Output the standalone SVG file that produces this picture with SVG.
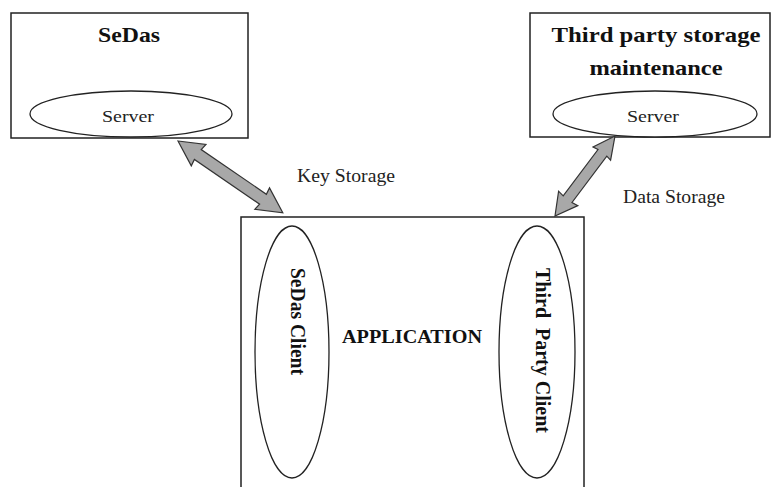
<svg xmlns="http://www.w3.org/2000/svg" width="772" height="487" viewBox="0 0 772 487">
<style>
.box{fill:#fff;stroke:#222;stroke-width:1.5}
.ell{fill:#fff;stroke:#222;stroke-width:1.3}
.b{font-family:"Liberation Serif","Times New Roman",serif;font-weight:bold;fill:#111}
.r{font-family:"Liberation Serif","Times New Roman",serif;fill:#222}
.arr{fill:#a8a8a8;stroke:#333;stroke-width:1.2;stroke-linejoin:miter}
</style>
<rect width="772" height="487" fill="#fff"/>
<g id="sedas">
<rect class="box" x="11" y="13" width="237" height="125"/>
<text class="b" x="129" y="42" font-size="22" text-anchor="middle" textLength="62" lengthAdjust="spacingAndGlyphs">SeDas</text>
<g id="sedas-server">
<ellipse class="ell" cx="131" cy="114" rx="101" ry="23"/>
<text class="r" x="128" y="122" font-size="17" text-anchor="middle" textLength="52" lengthAdjust="spacingAndGlyphs">Server</text>
</g>
</g>
<g id="thirdparty">
<rect class="box" x="530" y="13" width="240" height="124"/>
<text class="b" x="656" y="42" font-size="22" text-anchor="middle" textLength="209" lengthAdjust="spacingAndGlyphs">Third party storage</text>
<text class="b" x="656" y="75" font-size="22" text-anchor="middle" textLength="133" lengthAdjust="spacingAndGlyphs">maintenance</text>
<g id="thirdparty-server">
<ellipse class="ell" cx="655" cy="114" rx="102" ry="23"/>
<text class="r" x="653" y="122" font-size="17" text-anchor="middle" textLength="52" lengthAdjust="spacingAndGlyphs">Server</text>
</g>
</g>
<g id="application">
<rect class="box" x="241" y="217" width="343" height="285"/>
<text class="b" x="412" y="343" font-size="19" text-anchor="middle" textLength="140" lengthAdjust="spacingAndGlyphs">APPLICATION</text>
<g id="sedas-client">
<ellipse class="ell" cx="292" cy="352" rx="37" ry="126"/>
<text class="b" transform="translate(291,321.5) rotate(90)" font-size="20" text-anchor="middle" textLength="107" lengthAdjust="spacingAndGlyphs">SeDas Client</text>
</g>
<g id="thirdparty-client">
<ellipse class="ell" cx="537" cy="352" rx="38" ry="126"/>
<text class="b" transform="translate(536,350.5) rotate(90)" font-size="20" text-anchor="middle" textLength="165" lengthAdjust="spacingAndGlyphs" xml:space="preserve">Third  Party Client</text>
</g>
</g>
<g id="connectors">
<polygon class="arr" transform="translate(178,141) rotate(34.4)" points="0,0 25,-13 24,-6 103,-6 102,-13 127,0 102,13 103,6 24,6 25,13"/>
<polygon class="arr" transform="translate(615,136) rotate(126.87)" points="0,0 22,-11 21,-5.5 79,-5.5 78,-12 100,0 78,12 79,5.5 21,5.5 22,11"/>
<text class="r" x="297" y="182" font-size="18" textLength="98" lengthAdjust="spacingAndGlyphs">Key Storage</text>
<text class="r" x="623" y="203" font-size="18" textLength="102" lengthAdjust="spacingAndGlyphs">Data Storage</text>
</g>
</svg>
